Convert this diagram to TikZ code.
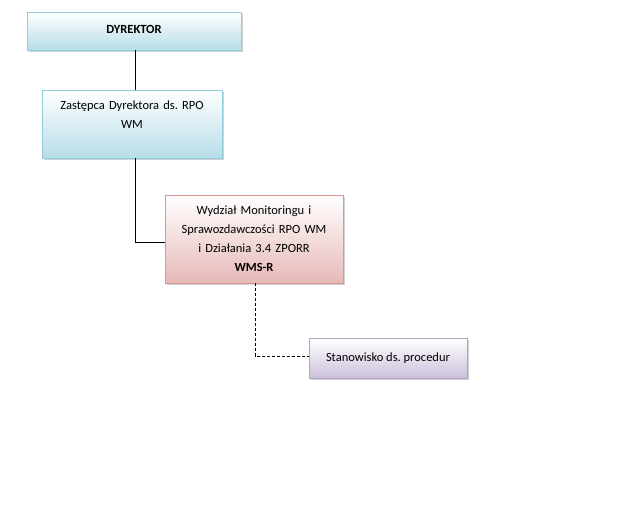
\documentclass[tikz,border=0pt]{standalone}
\usepackage{fontspec}
\setmainfont{Carlito}
\usetikzlibrary{shadows, positioning}
\definecolor{blueedge}{RGB}{146,205,220}
\definecolor{bluefill}{RGB}{183,221,232}
\definecolor{rededge}{RGB}{217,150,148}
\definecolor{redfill}{RGB}{230,185,184}
\definecolor{violetedge}{RGB}{179,162,199}
\definecolor{violetfill}{RGB}{204,192,218}
\frenchspacing

\begin{document}
\begin{tikzpicture}[x=1pt, y=-1pt,
  unit/.style={draw, top color=white, minimum height=38pt, align=center,
               font=\fontsize{12.5}{19}\selectfont, inner sep=2pt,
               drop shadow={shadow xshift=2pt, shadow yshift=-2pt, opacity=0.35}},
  bluebox/.style={unit, draw=blueedge, bottom color=bluefill},
  redbox/.style={unit, draw=rededge, bottom color=redfill},
  violetbox/.style={unit, draw=violetedge, bottom color=violetfill},
  link/.style={black, line width=0.8pt},
  dotlink/.style={link, dash pattern=on 3pt off 2pt}
]
\fill[white] (0,0) rectangle (640,512);
\useasboundingbox (0,0) rectangle (640,512);

\node[bluebox, minimum width=214pt, font=\fontsize{12.5}{19}\selectfont\bfseries] (dyr) at (134,31) {\raisebox{4pt}{DYREKTOR}};
\node[bluebox, minimum width=180pt, minimum height=68pt, text width=170pt, anchor=north] (zast) at (132,90)
  {Zastępca Dyrektora ds. RPO\\WM\\\rule{0pt}{16pt}};
\node[redbox, minimum width=178pt, minimum height=88pt, text width=170pt] (wms) at (254,239)
  {Wydział Monitoringu i\\Sprawozdawczości RPO WM\\i Działania 3.4 ZPORR\\\textbf{WMS-R}};
\node[violetbox, minimum width=158pt, minimum height=40pt] (stan) at (388,358) {Stanowisko ds. procedur};

\draw[link] (dyr.south -| 135,0) -- (zast.north -| 135,0);
\draw[link] (zast.south -| 135,0) |- (wms.west |- 0,242);
\draw[dotlink] (wms.south -| 255,0) |- (stan.west |- 0,356);
\end{tikzpicture}
\end{document}
